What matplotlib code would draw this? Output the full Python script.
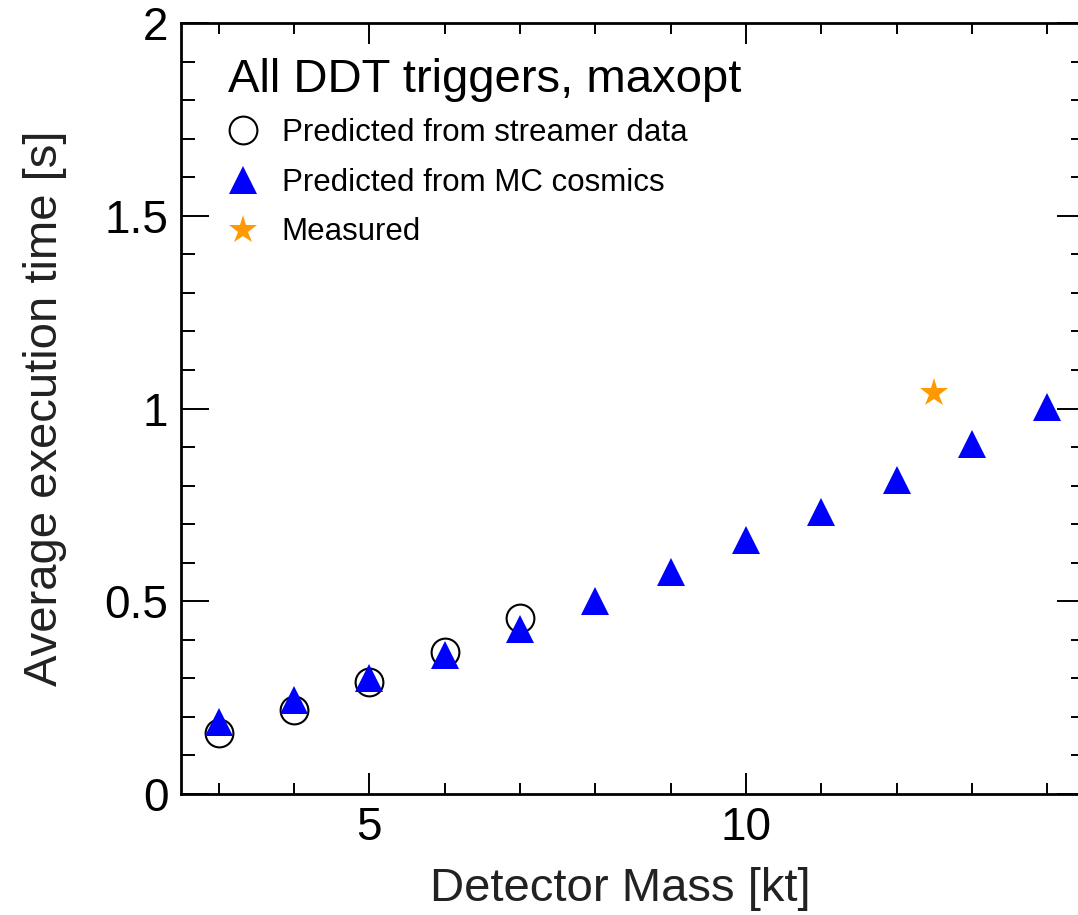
import numpy as np
import matplotlib
matplotlib.use("Agg")
import matplotlib.pyplot as plt
from matplotlib.ticker import MultipleLocator

plt.rcParams['font.family'] = ['Liberation Sans', 'DejaVu Sans']

# data
mass_stream = [3, 4, 5, 6, 7]
time_stream = [0.158, 0.218, 0.290, 0.368, 0.456]

mass_mc = [3, 4, 5, 6, 7, 8, 9, 10, 11, 12, 13, 14]
time_mc = [0.188, 0.244, 0.301, 0.361, 0.429, 0.500, 0.575, 0.658, 0.731, 0.815, 0.909, 1.004]

mass_meas = [12.5]
time_meas = [1.041]

fig = plt.figure(figsize=(10.78, 9.15), dpi=100)
ax = fig.add_axes([181 / 1078, 121 / 915, 904 / 1078, 771 / 915])

ax.plot(mass_stream, time_stream, linestyle='none', marker='o', ms=20,
        mfc='none', mec='black', mew=1.5, label='Predicted from streamer data', zorder=3)
ax.plot(mass_mc, time_mc, linestyle='none', marker='^', ms=19.5,
        color='#0000ff', mew=0, label='Predicted from MC cosmics', zorder=4)
ax.plot(mass_meas, time_meas, linestyle='none', marker='*', ms=21.5,
        color='#ff9900', mew=0, label='Measured', zorder=5)

ax.set_xlim(2.5, 14.5)
ax.set_ylim(0, 2)

ax.xaxis.set_major_locator(MultipleLocator(5))
ax.xaxis.set_minor_locator(MultipleLocator(1))
ax.yaxis.set_major_locator(MultipleLocator(0.5))
ax.yaxis.set_minor_locator(MultipleLocator(0.1))
ax.yaxis.set_major_formatter(plt.FuncFormatter(lambda v, p: f"{v:g}"))

for s in ax.spines.values():
    s.set_linewidth(2)

ax.tick_params(which='both', direction='in', top=True, right=True, width=1.4, labelsize=33)
ax.tick_params(axis='x', which='major', length=15, pad=9)
ax.tick_params(axis='x', which='minor', length=8)
ax.tick_params(axis='y', which='major', length=20, pad=9)
ax.tick_params(axis='y', which='minor', length=10)

ax.set_xlabel('Detector Mass [kt]', fontsize=34, color='#222222')
ax.set_ylabel('Average execution time [s]', fontsize=34, color='#222222')
ax.xaxis.set_label_coords(0.486, -0.095)
ax.yaxis.set_label_coords(-0.126, 0.5)

# legend header (ROOT TLegend style)
ax.text(47 / 904, 1 - 69 / 771, 'All DDT triggers, maxopt', transform=ax.transAxes,
        fontsize=34, ha='left', va='baseline')
leg = ax.legend(loc='upper left', bbox_to_anchor=(46 / 904, 0.8764), frameon=False,
                fontsize=22.5, handlelength=1.0, handletextpad=0.75,
                labelspacing=0.627, borderpad=0, borderaxespad=0)

fig.savefig('out.png', dpi=100)
